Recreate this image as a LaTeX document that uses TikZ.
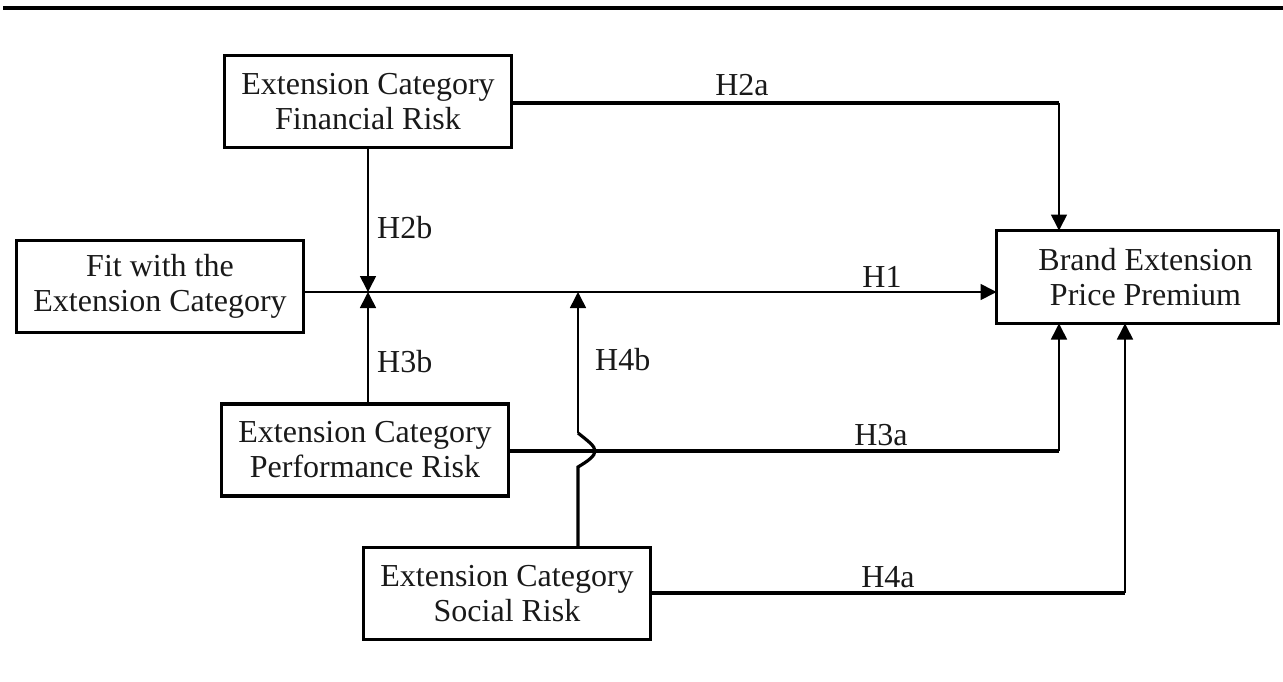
\documentclass[tikz,border=0pt]{standalone}
\usepackage{fontspec}
\setmainfont{Liberation Serif}
\usetikzlibrary{arrows.meta}
\begin{document}
\begin{tikzpicture}[x=1pt,y=-1pt,
  every node/.style={font=\fontsize{32}{35}\selectfont, text=black!90},
  box/.style={draw, line width=3.5pt, inner sep=0pt, outer sep=0pt, minimum width=287pt, minimum height=92pt, align=center},
  thk/.style={line width=3.2pt},
  thn/.style={line width=1.6pt},
  arr/.style={-{Triangle[length=16pt,width=16pt]}},
  lab/.style={inner sep=0pt, anchor=base},
  labw/.style={inner sep=0pt, anchor=base west}
]
\useasboundingbox (0,0) rectangle (1283,681);
\draw[line width=3.2pt] (3,8) -- (1283,8);

\node[box] (fin) at (368,101.5) {Extension Category\\Financial Risk};
\node[box] (fit) at (160,286.5) {Fit with the\\Extension Category};
\node[box, minimum width=282pt, minimum height=93pt] (brand) at (1137.5,277) {\hspace*{16pt}Brand Extension\\\hspace*{16pt}Price Premium};
\node[box] (perf) at (365,450) {Extension Category\\Performance Risk};
\node[box] (soc) at (507,593.5) {Extension Category\\Social Risk};

\coordinate (j2) at (368,292);
\coordinate (j4) at (578,292);
\coordinate (c2a) at (1059,103);
\coordinate (c3a) at (1059,451);
\coordinate (c4a) at (1125,593);
\coordinate (hb) at (578,467);
\coordinate (hm) at (595,451);
\coordinate (ht) at (578,433);

% H1
\draw[thn,arr] (fit.east |- j2) -- (brand.west |- j2);
% H2a
\draw[thk] (fin.east |- c2a) -- (c2a);
\draw[thn,arr] (c2a) -- (c2a |- brand.north);
% H2b
\draw[thn,arr] (fin.south -| j2) -- (j2);
% H3b
\draw[thn,arr] (perf.north -| j2) -- (j2);
% H3a
\draw[thk] (perf.east |- c3a) -- (c3a);
\draw[thn,arr] (c3a) -- (c3a |- brand.south);
% H4a
\draw[thk] (soc.east |- c4a) -- (c4a);
\draw[thn,arr] (c4a) -- (c4a |- brand.south);
% H4b
\draw[thk] (soc.north -| hb) -- (hb) .. controls (588,461) and (595,456) .. (hm) .. controls (595,446) and (588,441) .. (ht);
\draw[thn,arr] (ht) -- (j4);

\node[lab] (l2a) at (742,95) {H2a};
\node[lab] (l1) at (882,287) {H1};
\node[lab] (l3a) at (881,445) {H3a};
\node[lab] (l4a) at (888,587) {H4a};
\node[labw] (l2b) at (377,238) {H2b};
\node[labw] (l3b) at (377,372) {H3b};
\node[labw] (l4b) at (595,370) {H4b};
\end{tikzpicture}
\end{document}
